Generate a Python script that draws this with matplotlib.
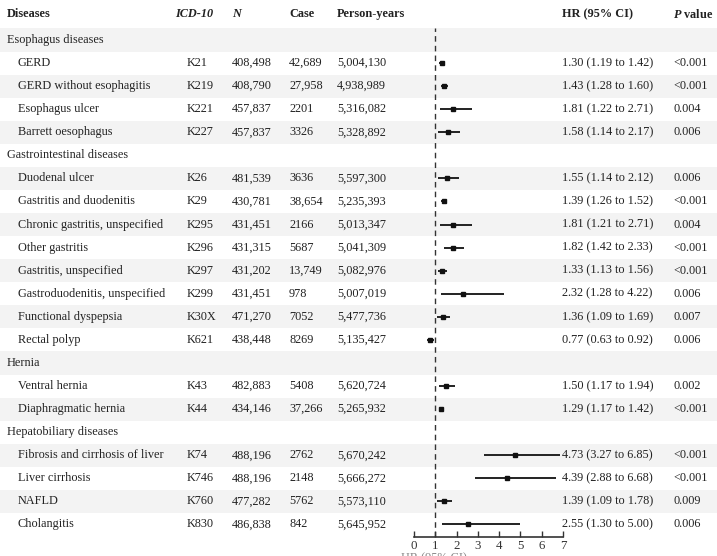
import matplotlib
matplotlib.use("Agg")
import matplotlib.pyplot as plt

labels = ["Esophagus diseases", "GERD", "GERD without esophagitis", "Esophagus ulcer",
          "Barrett oesophagus", "Gastrointestinal diseases", "Duodenal ulcer",
          "Gastritis and duodenitis", "Chronic gastritis, unspecified", "Other gastritis",
          "Gastritis, unspecified", "Gastroduodenitis, unspecified", "Functional dyspepsia",
          "Rectal polyp", "Hernia", "Ventral hernia", "Diaphragmatic hernia",
          "Hepatobiliary diseases", "Fibrosis and cirrhosis of liver", "Liver cirrhosis",
          "NAFLD", "Cholangitis"]
groups = ["Esophagus diseases", "Gastrointestinal diseases", "Hernia", "Hepatobiliary diseases"]

icd = ["", "K21", "K219", "K221", "K227", "", "K26", "K29", "K295", "K296", "K297", "K299",
       "K30X", "K621", "", "K43", "K44", "", "K74", "K746", "K760", "K830"]
n_total = ["", "408,498", "408,790", "457,837", "457,837", "", "481,539", "430,781", "431,451",
           "431,315", "431,202", "431,451", "471,270", "438,448", "", "482,883", "434,146", "",
           "488,196", "488,196", "477,282", "486,838"]
cases = ["", "42,689", "27,958", "2201", "3326", "", "3636", "38,654", "2166", "5687", "13,749",
         "978", "7052", "8269", "", "5408", "37,266", "", "2762", "2148", "5762", "842"]
person_years = ["", "5,004,130", "4,938,989", "5,316,082", "5,328,892", "", "5,597,300",
                "5,235,393", "5,013,347", "5,041,309", "5,082,976", "5,007,019", "5,477,736",
                "5,135,427", "", "5,620,724", "5,265,932", "", "5,670,242", "5,666,272",
                "5,573,110", "5,645,952"]
hr = [None, 1.30, 1.43, 1.81, 1.58, None, 1.55, 1.39, 1.81, 1.82, 1.33, 2.32, 1.36, 0.77, None,
      1.50, 1.29, None, 4.73, 4.39, 1.39, 2.55]
lo = [None, 1.19, 1.28, 1.22, 1.14, None, 1.14, 1.26, 1.21, 1.42, 1.13, 1.28, 1.09, 0.63, None,
      1.17, 1.17, None, 3.27, 2.88, 1.09, 1.30]
hi = [None, 1.42, 1.60, 2.71, 2.17, None, 2.12, 1.52, 2.71, 2.33, 1.56, 4.22, 1.69, 0.92, None,
      1.94, 1.42, None, 6.85, 6.68, 1.78, 5.00]
pvals = ["", "<0.001", "<0.001", "0.004", "0.006", "", "0.006", "<0.001", "0.004", "<0.001",
         "<0.001", "0.006", "0.007", "0.006", "", "0.002", "<0.001", "", "<0.001", "<0.001",
         "0.009", "0.006"]
xticks = [0, 1, 2, 3, 4, 5, 6, 7]

plt.rcParams['font.family'] = ['Liberation Serif', 'DejaVu Serif']
plt.rcParams['mathtext.fontset'] = 'custom'
plt.rcParams['mathtext.rm'] = 'Liberation Serif:bold'
plt.rcParams['mathtext.it'] = 'Liberation Serif:bold:italic'
plt.rcParams['mathtext.bf'] = 'Liberation Serif:bold'
plt.rcParams['mathtext.bfit'] = 'Liberation Serif:bold:italic'

W, H = 717, 556
fig = plt.figure(figsize=(W / 100, H / 100), dpi=100)
fs = 8.8
txt_col = "#222222"

# background axes in pixel units
bg = fig.add_axes([0, 0, 1, 1])
bg.set_xlim(0, W)
bg.set_ylim(H, 0)
bg.axis("off")

y0, step = 40, 23.07
ys = [y0 + i * step for i in range(len(labels))]

for i, y in enumerate(ys):
    if i % 2 == 0:
        bg.axhspan(y - step / 2, y + step / 2, color="#f3f3f3", lw=0, zorder=0)

# header
hy = 14
bg.text(7, hy, "Diseases", fontsize=fs, fontweight="bold", va="center", color=txt_col)
bg.text(175, hy, "ICD-10", fontsize=fs, fontweight="bold", fontstyle="italic", va="center", color=txt_col)
bg.text(232, hy, "N", fontsize=fs, fontweight="bold", fontstyle="italic", va="center", color=txt_col)
bg.text(289, hy, "Case", fontsize=fs, fontweight="bold", va="center", color=txt_col)
bg.text(337, hy, "Person-years", fontsize=fs, fontweight="bold", va="center", color=txt_col)
bg.text(562, hy, "HR (95% CI)", fontsize=fs, fontweight="bold", va="center", color=txt_col)
bg.text(673, hy, r"$\mathit{P}$ value", fontsize=fs, fontweight="bold", va="center", color=txt_col)

for i, y in enumerate(ys):
    lab = labels[i]
    if lab in groups:
        bg.text(7, y, lab, fontsize=fs, va="center", color=txt_col)
        continue
    bg.text(18, y, lab, fontsize=fs, va="center", color=txt_col)
    bg.text(187, y, icd[i], fontsize=fs, va="center", color=txt_col)
    bg.text(232, y, n_total[i], fontsize=fs, va="center", color=txt_col)
    bg.text(289, y, cases[i], fontsize=fs, va="center", color=txt_col)
    bg.text(337, y, person_years[i], fontsize=fs, va="center", color=txt_col)
    bg.text(562, y, f"{hr[i]:.2f} ({lo[i]:.2f} to {hi[i]:.2f})", fontsize=fs, va="center", color=txt_col)
    bg.text(673, y, pvals[i], fontsize=fs, va="center", color=txt_col)

# label below the axis, cut by the bottom edge as in the source image
bg.text(434, 552, "HR (95% CI)", fontsize=fs, ha="center", va="top", color="#888888")

# forest axes
x_left, x_right = 414, 563
y_top, y_axis = 28, 537
ax = fig.add_axes([x_left / W, (H - y_axis) / H, (x_right - x_left) / W, (y_axis - y_top) / H])
ax.set_facecolor("none")
ax.set_xlim(0, 7)
ax.set_ylim(y_axis, y_top)
for s in ["top", "left", "right"]:
    ax.spines[s].set_visible(False)
ax.spines["bottom"].set_color("#333333")
ax.spines["bottom"].set_linewidth(1.2)
ax.set_yticks([])
ax.set_xticks(xticks)
ax.tick_params(axis="x", direction="in", length=4, width=1, colors="#333333",
               labelsize=fs + 0.5, pad=2)
ax.axvline(1, color="#333333", ls=(0, (4, 3)), lw=1)

for i, y in enumerate(ys):
    if hr[i] is None:
        continue
    ax.plot([lo[i], hi[i]], [y, y], color="#222222", lw=1.4, solid_capstyle="butt")
    ax.plot(hr[i], y, marker="s", ms=3.5, color="#111111")

fig.savefig("out.png", dpi=100)
